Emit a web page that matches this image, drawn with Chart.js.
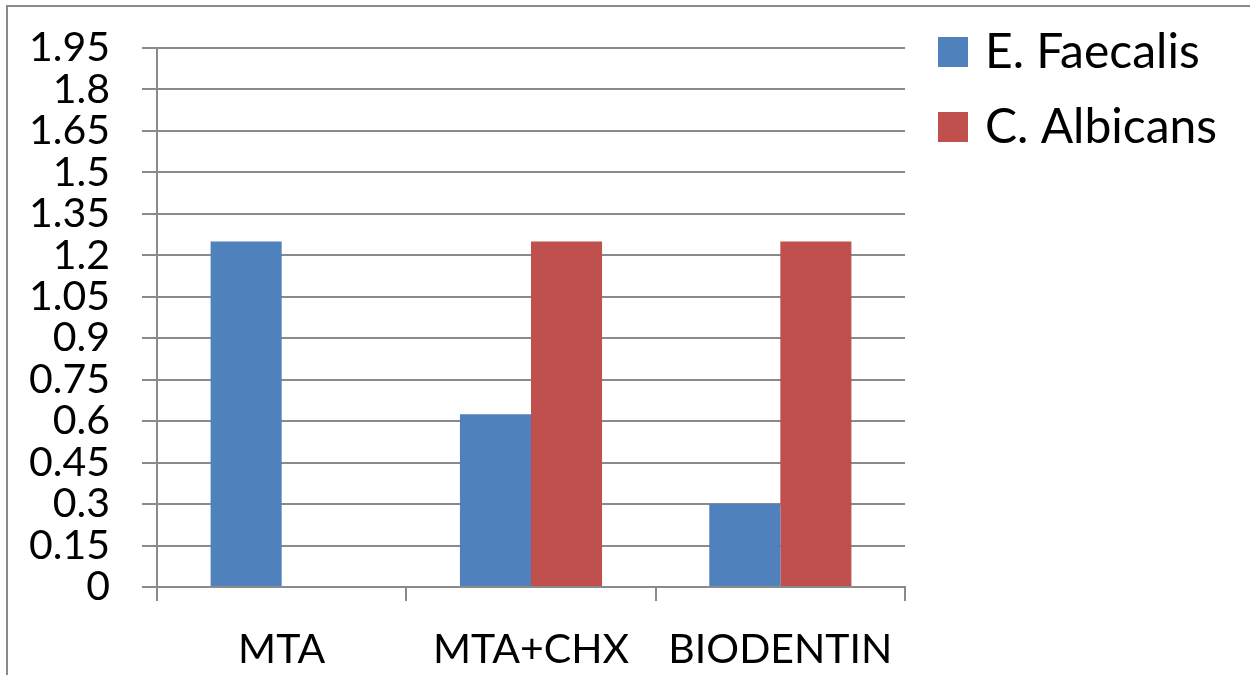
<!DOCTYPE html>
<html><head><meta charset="utf-8">
<script src="https://cdn.jsdelivr.net/npm/chart.js@4/dist/chart.umd.min.js"></script>
<style>
html,body{margin:0;padding:0;background:#fff;}
#wrap{position:relative;width:1250px;height:675px;}
#frame{position:absolute;left:6px;top:5px;width:1300px;height:700px;border-top:2px solid #8a8a8a;border-left:2px solid #8a8a8a;pointer-events:none;}
canvas{position:absolute;left:0;top:0;}
</style></head>
<body>
<div id="wrap"><canvas id="c" width="1250" height="675"></canvas><div id="frame"></div></div>
<script>
const categories = ['MTA', 'MTA+CHX', 'BIODENTIN'];
const seriesNames = ['E. Faecalis', 'C. Albicans'];
const eFaecalis = [1.25, 0.625, 0.3];
const cAlbicans = [0, 1.25, 1.25];
const yTickLabels = ['0','0.15','0.3','0.45','0.6','0.75','0.9','1.05','1.2','1.35','1.5','1.65','1.8','1.95'];
const colors = ['#4F81BD', '#C0504D'];
const FONT = 'Lato, "Open Sans", sans-serif';

const legendPlugin = {
  id: 'customLegend',
  afterDraw(chart) {
    const ctx = chart.ctx;
    ctx.save();
    chart.data.datasets.forEach((ds, i) => {
      const y = 52 + i * 75;
      ctx.fillStyle = ds.backgroundColor;
      ctx.fillRect(938, y - 15, 30, 30);
      ctx.fillStyle = '#000';
      ctx.font = '48px ' + FONT;
      ctx.textBaseline = 'middle';
      ctx.textAlign = 'left';
      ctx.fillText(ds.label, 985, y + 1);
    });
    ctx.restore();
  }
};

new Chart(document.getElementById('c'), {
  type: 'bar',
  data: {
    labels: categories,
    datasets: [
      { label: seriesNames[0], data: eFaecalis, backgroundColor: colors[0] },
      { label: seriesNames[1], data: cAlbicans, backgroundColor: colors[1] }
    ]
  },
  options: {
    responsive: false,
    animation: false,
    devicePixelRatio: 1,
    layout: { padding: { left: 30, top: 48, right: 345, bottom: 0 } },
    plugins: { legend: { display: false }, tooltip: { enabled: false } },
    datasets: { bar: { categoryPercentage: 0.57, barPercentage: 1, borderWidth: 0 } },
    scales: {
      x: {
        offset: true,
        afterFit: s => { s.height = 88; s.paddingLeft = 0; s.paddingRight = 0; },
        grid: { offset: true, drawOnChartArea: false, drawTicks: true, tickLength: 14, color: '#8a8a8a', lineWidth: 2 },
        border: { display: true, color: '#8a8a8a', width: 2 },
        ticks: { color: '#000', font: { family: FONT, size: 41 }, padding: 24, autoSkip: false, maxRotation: 0 }
      },
      y: {
        min: 0, max: 1.95,
        afterFit: s => { s.width = 127; s.paddingTop = 0; s.paddingBottom = 0; },
        ticks: {
          stepSize: 0.15, color: '#000', font: { family: FONT, size: 41 }, padding: 32, autoSkip: false,
          callback: (v, i) => yTickLabels[i]
        },
        grid: { color: '#8a8a8a', lineWidth: 2, tickLength: 15, drawTicks: true },
        border: { display: true, color: '#8a8a8a', width: 2 }
      }
    }
  },
  plugins: [legendPlugin]
});
</script>
</body></html>
